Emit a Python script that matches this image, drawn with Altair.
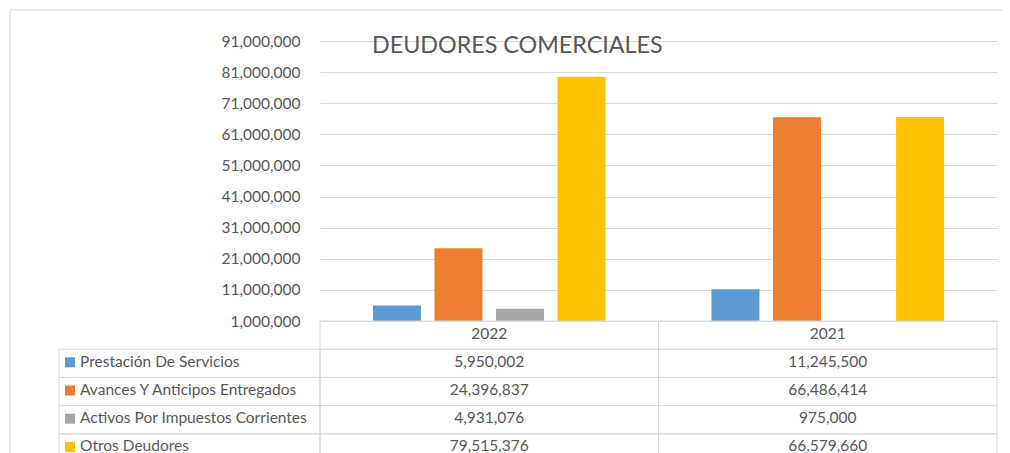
import altair as alt
import pandas as pd

years = ["2022", "2021"]
series = [
    "Prestación De Servicios",
    "Avances Y Anticipos Entregados",
    "Activos Por Impuestos Corrientes",
    "Otros Deudores",
]
prestacion = [5950002, 11245500]
avances = [24396837, 66486414]
activos = [4931076, 975000]
otros = [79515376, 66579660]
colors = ["#5B9BD5", "#ED7D31", "#A5A5A5", "#FFC000"]
y_ticks = [1000000, 11000000, 21000000, 31000000, 41000000,
           51000000, 61000000, 71000000, 81000000, 91000000]

FONT = "Lato"
TXT = "#595959"
GRID = "#d9d9d9"
FS = 15.5
W, H = 677, 412

values_by_series = [prestacion, avances, activos, otros]
records = []
for s, vals in zip(series, values_by_series):
    for yr, v in zip(years, vals):
        records.append({"year": yr, "series": s, "row": s, "value": v,
                        "label": f"{v:,}"})
df = pd.DataFrame(records)

rows = ["header"] + series
header_df = pd.DataFrame({"year": years, "row": ["header"] * len(years), "label": years})
cells_df = pd.DataFrame([{"year": yr, "row": r} for yr in years for r in rows])
lab_df = pd.DataFrame({"col": ["label"] * len(series), "row": series, "series": series})

year_scale = alt.Scale(domain=years, paddingInner=0, paddingOuter=0)
row_scale = alt.Scale(domain=rows, range=[280, 421], paddingInner=0, paddingOuter=0)
lab_scale = alt.Scale(domain=["label"], range=[-261, 0], paddingInner=0, paddingOuter=0)
color_scale = alt.Scale(domain=series, range=colors)

# chart-area frame (top and left edges; the rest lies outside the window)
frame_top = alt.Chart(alt.Data(values=[{}])).mark_rule(color=GRID, strokeWidth=1).encode(
    x=alt.value(-310), x2=alt.value(720), y=alt.value(-31)
)
frame_left = alt.Chart(alt.Data(values=[{}])).mark_rule(color=GRID, strokeWidth=1).encode(
    x=alt.value(-310), y=alt.value(-31), y2=alt.value(470)
)

bars = alt.Chart(df).mark_bar().encode(
    x=alt.X("year:N", sort=years, scale=year_scale, axis=None),
    xOffset=alt.XOffset("series:N", sort=series,
                        scale=alt.Scale(domain=series, paddingInner=0.22, paddingOuter=0.86)),
    y=alt.Y("value:Q",
            scale=alt.Scale(domain=[1000000, 91000000], range=[280, 0], clamp=True,
                            nice=False, zero=False),
            axis=alt.Axis(values=y_ticks, format=",.0f", title=None, domain=False,
                          ticks=False, tickSize=0, labelPadding=20, labelColor=TXT,
                          labelFontSize=FS, labelFont=FONT, grid=True, gridColor=GRID,
                          orient="left")),
    y2=alt.Y2Datum(1000000),
    color=alt.Color("series:N", scale=color_scale, legend=None),
)

cells = alt.Chart(cells_df).mark_rect(fillOpacity=0, stroke=GRID, strokeWidth=1).encode(
    x=alt.X("year:N", scale=year_scale, axis=None),
    y=alt.Y("row:N", scale=row_scale, axis=None),
)

vals_text = alt.Chart(df).mark_text(font=FONT, fontSize=FS, color=TXT, dy=-1.5).encode(
    x=alt.X("year:N", scale=year_scale, axis=None),
    y=alt.Y("row:N", scale=row_scale, axis=None),
    text="label:N",
)

head_text = alt.Chart(header_df).mark_text(font=FONT, fontSize=FS, color=TXT, dy=-1).encode(
    x=alt.X("year:N", scale=year_scale, axis=None),
    y=alt.Y("row:N", scale=row_scale, axis=None),
    text="label:N",
)

lab_cells = alt.Chart(lab_df).mark_rect(fillOpacity=0, stroke=GRID, strokeWidth=1).encode(
    x=alt.X("col:N", scale=lab_scale, axis=None),
    y=alt.Y("row:N", scale=row_scale, axis=None),
)

lab_text = alt.Chart(lab_df).mark_text(
    font=FONT, fontSize=FS, color=TXT, align="left", dx=-109.5, dy=-1.5
).encode(
    x=alt.X("col:N", scale=lab_scale, axis=None),
    y=alt.Y("row:N", scale=row_scale, axis=None),
    text="series:N",
)

squares = alt.Chart(lab_df).mark_square(size=100, filled=True, opacity=1, xOffset=-119.5,
                                        yOffset=-1).encode(
    x=alt.X("col:N", scale=lab_scale, axis=None),
    y=alt.Y("row:N", scale=row_scale, axis=None),
    color=alt.Color("series:N", scale=color_scale, legend=None),
)

chart = alt.layer(
    frame_top, frame_left, bars, cells, vals_text, head_text, lab_cells, lab_text, squares
).resolve_scale(
    x="independent", y="independent"
).properties(
    width=W, height=H,
    padding={"left": 312, "top": 33, "right": 5, "bottom": 0},
    autosize=alt.AutoSizeParams(type="none"),
    title=alt.Title("DEUDORES COMERCIALES", anchor="start", frame="group", dx=52, dy=53,
                    fontSize=23.3, font=FONT, color=TXT, fontWeight="normal"),
).configure_view(stroke=None)

chart.save("out.html", embed_options={"renderer": "svg", "actions": False})
